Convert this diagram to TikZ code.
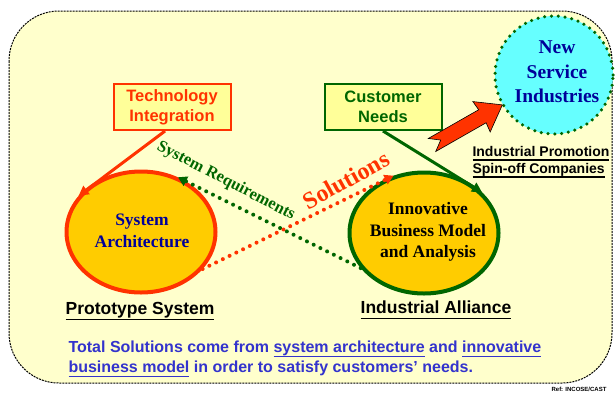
\documentclass[tikz,border=0pt]{standalone}
\usepackage{fontspec}
\setmainfont{Liberation Sans}
\newfontfamily\timesb{Liberation Serif}
\usetikzlibrary{shapes.geometric,arrows.meta}
\definecolor{paleyellow}{HTML}{FFFFCC}
\definecolor{boxyellow}{HTML}{FFFF99}
\definecolor{techred}{HTML}{FF3300}
\definecolor{dgreen}{HTML}{006600}
\definecolor{gold}{HTML}{FFCC00}
\definecolor{skycyan}{HTML}{66FFFF}
\definecolor{navy}{HTML}{000099}
\definecolor{textblue}{HTML}{3333CC}
\newcommand\uln[1]{\leavevmode\setbox0\hbox{#1}\rlap{\raisebox{-0.3em}{\rule{\wd0}{1.2pt}}}\box0\relax}
\tikzset{
  sourcebox/.style={draw=#1, text=#1, line width=2pt, fill=boxyellow, minimum width=117pt,
    minimum height=46pt, inner sep=0pt, align=center, font=\fontsize{16.5}{20}\selectfont\bfseries},
  oval/.style={ellipse, draw=#1, line width=4pt, fill=gold, minimum width=149pt, minimum height=121pt},
  ovaltext/.style={align=center, font=\timesb\fontsize{17.5}{21.5}\selectfont\bfseries},
  caption/.style={font=\fontsize{17.5}{20}\selectfont\bfseries},
  dotline/.style={draw=#1, line width=4pt, line cap=round, dash pattern=on 0pt off 7.5pt,
    -{Triangle[length=9pt,width=10pt]}},
  solidarrow/.style={draw=#1, line width=3pt, -{Triangle[length=10pt,width=10pt]}}
}
\begin{document}
\begin{tikzpicture}[x=1pt,y=-1pt]
			\useasboundingbox (0,0) rectangle (615,394);
			%%%%% FRAME %%%%%
			\draw[fill=paleyellow, line width=1pt, dash pattern=on 2pt off 1pt, rounded corners=50pt] (9,11) rectangle (612,383);
			
			%%%%% SOURCES %%%%%
			\node[sourcebox=techred] (tech) at (172,107) {Technology\\Integration};
			\node[sourcebox=dgreen] (needs) at (383,107) {Customer\\Needs};
			
			%%%%% OVALS %%%%%
			\node[oval=techred] (sysarch) at (141,232) {};
			\node[ovaltext, text=navy] (sysarchtext) at (142,231) {System\\Architecture};
			\node[oval=dgreen] (innov) at (424,233) {};
			\node[ovaltext] (innovtext) at (428,232) {Innovative\\Business Model\\and Analysis};
			
			\node[circle, draw=dgreen, fill=skycyan, line width=3.5pt, line cap=round, dash pattern=on 0pt off 6.8pt,
				minimum size=118pt, inner sep=0pt] (newind) at (554,75) {};
			\node[align=center, text=navy, font=\timesb\fontsize{19.5}{24.5}\selectfont\bfseries] (newindtext) at (557,72) {New\\Service\\Industries};
			
			%%%%% CONNECTORS %%%%%
			\draw[solidarrow=techred] (tech.south) ++(-7,0) coordinate (techfoot) -- (sysarch.150);
			\draw[solidarrow=dgreen] (needs.south) -- (innov.35);
			\draw[dotline=dgreen] (innov.209) -- (sysarch.56);
			\draw[dotline=techred] (sysarch.-31) -- (innov.118);
			
			\node[rotate=-27.5, text=dgreen, font=\timesb\fontsize{16.5}{18}\selectfont\bfseries] (reqlabel) at (226,181) {System Requirements};
			\node[rotate=29, text=techred, font=\timesb\fontsize{24}{26}\selectfont\bfseries] (sollabel) at (346,180) {Solutions};
			
			%%%%% PROMOTION ARROW %%%%%
			\begin{scope}[shift={(432,145)}, rotate=29.7]
				\draw[fill=techred, line width=0.6pt] (0,-7.5) -- (58,-7.5) -- (57,-17.5) -- (81,0) -- (57,17.5) -- (58,7.5) -- (0,7.5) -- (10,0) -- cycle;
			\end{scope}
			\node[anchor=west, align=left, font=\fontsize{14}{17}\selectfont\bfseries] (promo) at (469,162) {\uln{Industrial Promotion}\\\uln{Spin-off Companies}};
			
			%%%%% CAPTIONS %%%%%
			\node[caption] (proto) at (140,311) {\uln{Prototype System}};
			\node[caption] (alliance) at (436,310) {\uln{Industrial Alliance}};
			\node[anchor=west, align=left, text=textblue, font=\fontsize{16}{20}\selectfont\bfseries] (summary) at (65,359)
				{Total Solutions come from \uln{system architecture} and \uln{innovative}\\\uln{business model} in order to satisfy customers’ needs.};
			\node[anchor=east, font=\fontsize{6}{7}\selectfont\bfseries] (ref) at (610,389) {Ref: INCOSE/CAST};
\end{tikzpicture}
\end{document}
